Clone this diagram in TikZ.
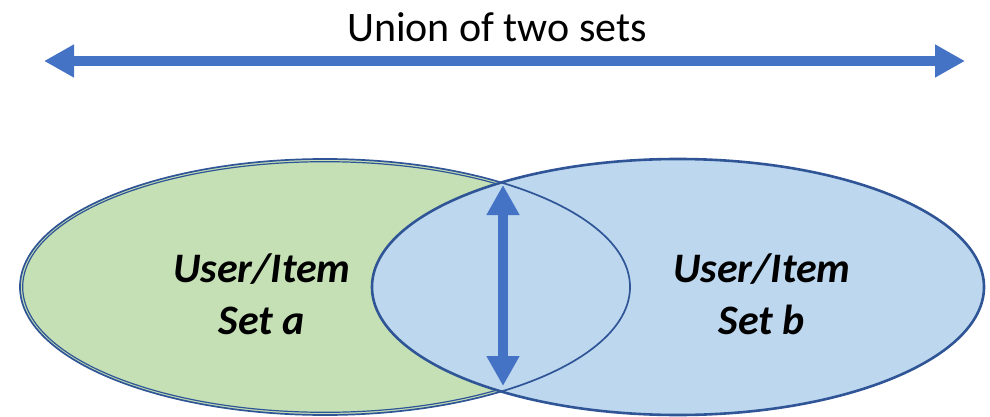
\documentclass[tikz,border=0pt]{standalone}
\usepackage{fontspec}
\setmainfont{Carlito}
\usetikzlibrary{arrows.meta}
\definecolor{edgeblue}{HTML}{2F5597}
\definecolor{setgreen}{HTML}{C5E0B4}
\definecolor{setblue}{HTML}{BDD7EE}
\definecolor{arrowblue}{HTML}{4472C4}
\tikzset{
  setlabel/.style={font=\fontsize{42}{52}\selectfont\bfseries\itshape, align=center, text=black},
  bigarrow/.style={draw=arrowblue, line width=9.5pt, {Triangle[length=30pt,width=31pt]}-{Triangle[length=30pt,width=31pt]}},
}
\begin{document}
\begin{tikzpicture}[x=1pt,y=-1pt]
\useasboundingbox (0,0) rectangle (990,417);
% left set
\fill[setgreen] (325,287) ellipse [x radius=305, y radius=128];
\draw[edgeblue, line width=1.2pt] (325,287) ellipse [x radius=302.3, y radius=125.3];
% right set
\filldraw[fill=setblue, draw=edgeblue, line width=2.6pt] (678,287) ellipse [x radius=306, y radius=128];
% left outline
\draw[edgeblue, line width=1.7pt] (325,287) ellipse [x radius=305, y radius=128];
% labels
\node[setlabel] (la) at (262,294) {User/Item\\Set a};
\node[setlabel] (lb) at (762,294) {User/Item\\Set b};
% title
\node[font=\fontsize{42}{44}\selectfont] (title) at (497,27) {Union of two sets};
% arrows
\coordinate (ul) at (44,61);
\coordinate (ur) at (965,61);
\draw[bigarrow] (ul) -- (ur);
\coordinate (it) at (503,185);
\coordinate (ib) at (503,386);
\draw[bigarrow, line width=10.5pt] (it) -- (ib);
\end{tikzpicture}
\end{document}
